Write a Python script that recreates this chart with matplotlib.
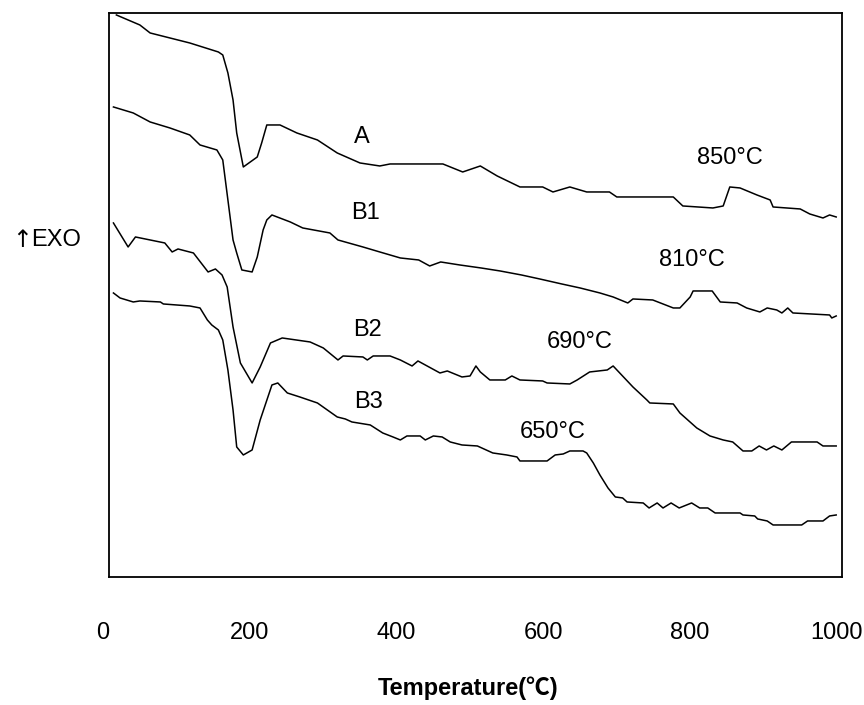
import matplotlib
matplotlib.use("Agg")
import matplotlib.pyplot as plt

# DTA curves (signal = distance from the top of the frame, px, axis inverted)
temp_A = [18, 50, 64, 91, 118, 157, 163, 170, 177, 182, 191, 210, 216, 223, 241, 264, 292, 319,
          350, 377, 391, 405, 432, 463, 490, 514, 537, 568, 599, 613, 636, 659, 690, 700, 777, 790,
          831, 845, 854, 868, 891, 909, 913, 950, 963, 981, 990, 999]
dta_A = [15, 25, 33, 38, 43, 52, 55, 73, 100, 133, 167, 157, 143, 125, 125, 133, 140, 153,
         163, 166, 164, 164, 164, 164, 172, 166, 176, 187, 187, 192, 187, 192, 192, 197, 197, 206,
         208, 206, 187, 188, 195, 200, 207, 209, 214, 218, 215, 217]

temp_B1 = [14, 41, 64, 91, 118, 132, 155, 163, 170, 177, 182, 189, 203, 210, 218, 223, 230, 255,
           272, 309, 320, 354, 377, 405, 430, 445, 460, 486, 515, 541, 570, 595, 625, 650, 677,
           695, 715, 722, 749, 777, 786, 800, 804, 830, 841, 864, 877, 895, 905, 918, 925, 933,
           940, 990, 993, 999]
dta_B1 = [107, 113, 122, 128, 135, 145, 150, 160, 200, 240, 253, 270, 272, 257, 230, 220, 215, 222,
          228, 233, 240, 247, 252, 258, 260, 266, 262, 265, 268, 271, 275, 279, 284, 288, 293,
          297, 303, 299, 300, 308, 308, 297, 291, 291, 302, 303, 308, 312, 308, 310, 313, 308,
          313, 315, 318, 316]

temp_B2 = [14, 34, 44, 64, 84, 94, 102, 123, 143, 153, 162, 169, 177, 187, 203, 214, 228, 244,
           282, 300, 320, 327, 354, 360, 368, 391, 405, 421, 429, 459, 469, 489, 500, 508, 514,
           527, 548, 557, 568, 599, 605, 636, 646, 663, 687, 695, 704, 722, 741, 745, 777, 786,
           809, 827, 845, 858, 872, 884, 894, 904, 914, 925, 938, 973, 981, 999]
dta_B2 = [223, 247, 237, 240, 243, 252, 249, 253, 272, 269, 275, 287, 327, 363, 383, 367, 343, 338,
          342, 348, 360, 356, 357, 360, 356, 356, 360, 366, 361, 373, 371, 377, 376, 366, 372,
          380, 380, 376, 380, 381, 383, 384, 380, 372, 370, 366, 373, 387, 400, 403, 404, 413,
          428, 436, 440, 442, 451, 451, 446, 450, 446, 450, 442, 442, 446, 446]

temp_B3 = [14, 23, 41, 50, 78, 82, 118, 132, 142, 148, 157, 163, 170, 177, 182, 191, 203, 214,
           230, 238, 251, 268, 292, 319, 330, 339, 364, 381, 395, 405, 414, 432, 439, 450, 462,
           473, 489, 510, 531, 550, 564, 568, 605, 616, 627, 636, 654, 659, 668, 677, 688, 698,
           708, 714, 736, 744, 755, 763, 774, 785, 802, 813, 824, 834, 868, 872, 888, 892, 905,
           913, 952, 960, 981, 990, 999]
dta_B3 = [293, 298, 302, 301, 302, 304, 306, 308, 320, 325, 330, 340, 370, 410, 447, 455, 450, 420,
          385, 383, 393, 397, 403, 417, 419, 422, 425, 433, 437, 440, 436, 436, 440, 436, 437,
          442, 445, 446, 453, 455, 457, 461, 461, 455, 454, 451, 451, 453, 463, 475, 488, 497,
          498, 502, 503, 508, 503, 508, 503, 508, 503, 508, 508, 513, 513, 515, 516, 519, 521,
          525, 525, 521, 521, 516, 515]

curve_names = ["A", "B1", "B2", "B3"]
name_pos = [(353, 137), (357, 213), (360, 330), (361, 402)]
peak_labels = ["850°C", "810°C", "690°C", "650°C"]
peak_pos = [(854, 158), (802, 260), (650, 342), (612, 432)]
xtick_vals = [0, 200, 400, 600, 800, 1000]

fam = ["Liberation Sans", "Noto Sans CJK SC", "DejaVu Sans"]

fig = plt.figure(figsize=(8.64, 7.05), dpi=100)
ax = fig.add_axes([0.1262, 0.1816, 0.8484, 0.8])

for t, d in zip([temp_A, temp_B1, temp_B2, temp_B3], [dta_A, dta_B1, dta_B2, dta_B3]):
    ax.plot(t, d, color="black", lw=1.1)

for name, (x, y) in zip(curve_names, name_pos):
    ax.text(x, y, name, family=fam, fontsize=17, ha="center", va="center")
for lab, (x, y) in zip(peak_labels, peak_pos):
    ax.text(x, y, lab, family=fam, fontsize=17, ha="center", va="center")

ax.set_xlim(8, 1007)
ax.set_ylim(577, 13)
ax.set_yticks([])
ax.set_xticks([])
for sp in ax.spines.values():
    sp.set_linewidth(1.3)

# tick labels sit below the frame without tick marks
for v in xtick_vals:
    ax.annotate(str(v), xy=(v, 0), xycoords=("data", "axes fraction"),
                xytext=(0, -40), textcoords="offset points", ha="center", va="center",
                family=fam, fontsize=17)

fig.text(468 / 864, 1 - 688 / 705, "Temperature(℃)", family=fam, fontsize=17,
         fontweight="bold", ha="center", va="center")
# exotherm-up marker
fig.text(22 / 864, 1 - 240 / 705, "↑", family="DejaVu Sans", fontsize=17,
         ha="center", va="center")
fig.text(31 / 864, 1 - 240 / 705, "EXO", family=fam, fontsize=17,
         ha="left", va="center")

fig.savefig("out.png", dpi=100)
